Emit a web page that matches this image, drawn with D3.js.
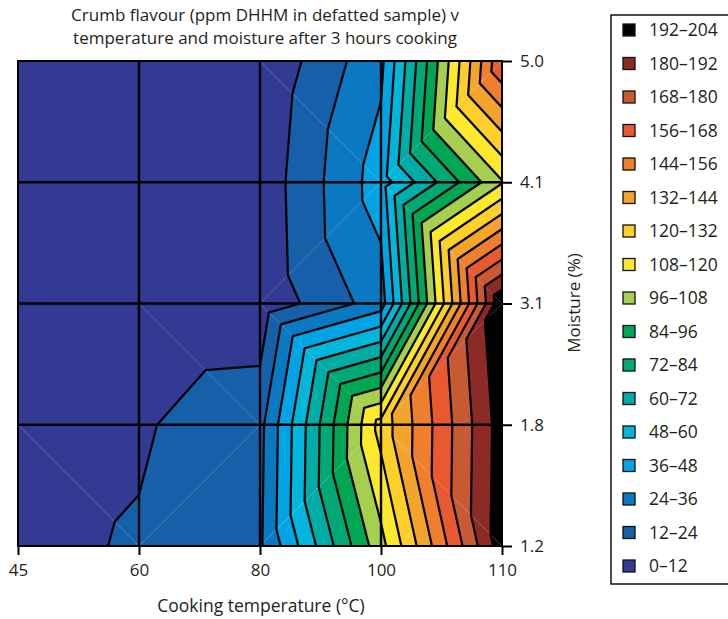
<!DOCTYPE html>
<html>
<head>
<meta charset="utf-8">
<script src="https://cdn.jsdelivr.net/npm/d3@7"></script>
<style>
  html, body { margin: 0; padding: 0; background: #fff; }
  svg { display: block; }
  text { font-family: "Open Sans", "Noto Sans", sans-serif; fill: #231f20; }
</style>
</head>
<body>
<svg id="chart" width="728" height="619"></svg>
<script>
// Grid of cooking conditions
const temperatures = ["45", "60", "80", "100", "110"];
const moistures = ["1.2", "1.8", "3.1", "4.1", "5.0"];

// ppm DHHM measured at each temperature (45, 60, 80, 100, 110 °C), one array per moisture level
const dhhmMoist1_2 = [8.8, 13.1, 22.0, 104.0, 199.0];
const dhhmMoist1_8 = [7.6, 10.5, 20.5, 125.0, 198.0];
const dhhmMoist3_1 = [4.0, 1.6, 3.0, 30.0, 203.0];
const dhhmMoist4_1 = [3.0, 2.0, 4.0, 42.0, 107.0];
const dhhmMoist5_0 = [2.0, 1.0, 1.0, 33.0, 167.0];

// Diagonal that splits each grid cell into two triangles, left to right,
// "\\" = top-left to bottom-right, "/" = bottom-left to top-right
const cellSplit1_2 = ["\\", "/", "/", "\\"];
const cellSplit1_8 = ["\\", "\\", "\\", "/"];
const cellSplit3_1 = ["\\", "\\", "/", "\\"];
const cellSplit4_1 = ["\\", "\\", "\\", "/"];

// Contour bands
const bandEdges = [0, 12, 24, 36, 48, 60, 72, 84, 96, 108, 120, 132, 144, 156, 168, 180, 192, 204];
const bandLabels = ["0–12", "12–24", "24–36", "36–48", "48–60", "60–72", "72–84", "84–96",
  "96–108", "108–120", "120–132", "132–144", "144–156", "156–168", "168–180", "180–192", "192–204"];
const bandColors = ["#333a93", "#1560a9", "#0a79c2", "#00a4e4", "#00b6db", "#00aca6", "#00a875",
  "#00a651", "#a6ce4f", "#fde92b", "#fccf2a", "#f3a52b", "#f07f2d", "#e8592f", "#c75a32", "#8c2a25", "#000000"];

const titleLines = ["Crumb flavour (ppm DHHM in defatted sample) v",
  "temperature and moisture after 3 hours cooking"];
const xTitle = "Cooking temperature (°C)";
const yTitle = "Moisture (%)";

const rows = [dhhmMoist1_2, dhhmMoist1_8, dhhmMoist3_1, dhhmMoist4_1, dhhmMoist5_0];
const splits = [cellSplit1_2, cellSplit1_8, cellSplit3_1, cellSplit4_1];

const svg = d3.select("#chart");
const plot = { left: 18, right: 502, top: 61, bottom: 546 };

const x = d3.scalePoint().domain(temperatures).range([plot.left, plot.right]);
const y = d3.scalePoint().domain(moistures).range([plot.bottom, plot.top]);
const bandColor = d3.scaleOrdinal().domain(bandLabels).range(bandColors);
const bandOf = v => bandLabels[Math.min(bandLabels.length - 1, Math.max(0, d3.bisectRight(bandEdges, v) - 1))];

function node(i, j) {
  return { x: x(temperatures[i]), y: y(moistures[j]), v: rows[j][i] };
}

// Build triangles; cells lying wholly inside one band are kept as single quads
const triangles = [];
const flatCells = [];
for (let j = 0; j < moistures.length - 1; j++) {
  for (let i = 0; i < temperatures.length - 1; i++) {
    const BL = node(i, j), BR = node(i + 1, j), TL = node(i, j + 1), TR = node(i + 1, j + 1);
    if (splits[j][i] === "\\") {
      triangles.push([TL, TR, BR], [TL, BL, BR]);
    } else {
      triangles.push([TL, TR, BL], [BL, BR, TR]);
    }
    const bands = new Set([BL, BR, TL, TR].map(p => bandOf(p.v)));
    if (bands.size === 1) flatCells.push({ band: bandOf(BL.v), poly: [TL, TR, BR, BL], tris: triangles.length - 2 });
  }
}

// Clip a polygon to the half-space where f(v) >= 0, values interpolated linearly
function clip(poly, f) {
  const out = [];
  for (let k = 0; k < poly.length; k++) {
    const a = poly[k], b = poly[(k + 1) % poly.length];
    const da = f(a.v), db = f(b.v);
    if (da >= 0) out.push(a);
    if ((da >= 0) !== (db >= 0)) {
      const t = da / (da - db);
      out.push({ x: a.x + t * (b.x - a.x), y: a.y + t * (b.y - a.y), v: a.v + t * (b.v - a.v) });
    }
  }
  return out;
}

const skip = new Set();
flatCells.forEach(c => { skip.add(c.tris); skip.add(c.tris + 1); });

const fills = flatCells.map(c => ({ band: c.band, poly: c.poly }));
triangles.forEach((tri, t) => {
  if (skip.has(t)) return;
  for (let b = 0; b < bandLabels.length; b++) {
    const lo = bandEdges[b], hi = bandEdges[b + 1];
    const poly = clip(clip(tri, v => v - lo), v => hi - v);
    if (poly.length >= 3) fills.push({ band: bandLabels[b], poly });
  }
});

const gFill = svg.append("g");
gFill.selectAll("path").data(fills).join("path")
  .attr("d", d => {
    const p = d3.path();
    d.poly.forEach((pt, k) => k ? p.lineTo(pt.x, pt.y) : p.moveTo(pt.x, pt.y));
    p.closePath();
    return p.toString();
  })
  .attr("fill", d => bandColor(d.band));

// Contour lines at every band boundary
const levels = bandEdges.slice(1, -1);
const contourPath = d3.path();
triangles.forEach(tri => {
  levels.forEach(L => {
    const pts = [];
    for (let k = 0; k < 3; k++) {
      const a = tri[k], b = tri[(k + 1) % 3];
      if ((a.v - L) * (b.v - L) < 0) {
        const t = (L - a.v) / (b.v - a.v);
        pts.push([a.x + t * (b.x - a.x), a.y + t * (b.y - a.y)]);
      }
    }
    if (pts.length === 2) {
      contourPath.moveTo(pts[0][0], pts[0][1]);
      contourPath.lineTo(pts[1][0], pts[1][1]);
    }
  });
});
svg.append("path")
  .attr("d", contourPath.toString())
  .attr("fill", "none")
  .attr("stroke", "#000")
  .attr("stroke-width", 2.2)
  .attr("stroke-linecap", "round");

// Grid lines
const gGrid = svg.append("g").attr("stroke", "#000").attr("stroke-width", 2.4);
gGrid.selectAll("line.v").data(temperatures.slice(1, -1)).join("line")
  .attr("class", "v")
  .attr("x1", d => x(d)).attr("x2", d => x(d))
  .attr("y1", plot.top).attr("y2", plot.bottom);
gGrid.selectAll("line.h").data(moistures.slice(1, -1)).join("line")
  .attr("class", "h")
  .attr("y1", d => y(d)).attr("y2", d => y(d))
  .attr("x1", plot.left).attr("x2", plot.right);
svg.append("rect")
  .attr("x", plot.left).attr("y", plot.top)
  .attr("width", plot.right - plot.left).attr("height", plot.bottom - plot.top)
  .attr("fill", "none").attr("stroke", "#000").attr("stroke-width", 2);

// Axes
const xAxis = svg.append("g")
  .attr("transform", `translate(0,${plot.bottom})`)
  .call(d3.axisBottom(x).tickSize(9).tickSizeOuter(0).tickPadding(9));
const yAxis = svg.append("g")
  .attr("transform", `translate(${plot.right},0)`)
  .call(d3.axisRight(y).tickSize(10).tickSizeOuter(0).tickPadding(8));
[xAxis, yAxis].forEach(g => {
  g.select(".domain").remove();
  g.selectAll(".tick line").attr("stroke", "#000").attr("stroke-width", 2);
  g.selectAll(".tick text").attr("font-size", 17).attr("fill", "#231f20")
    .attr("font-family", "'Open Sans', 'Noto Sans', sans-serif");
});

// Titles
svg.append("g").selectAll("text").data(titleLines).join("text")
  .attr("x", 265).attr("y", (d, k) => 21 + k * 23)
  .attr("text-anchor", "middle").attr("font-size", 17)
  .text(d => d);
svg.append("text")
  .attr("x", 261).attr("y", 612)
  .attr("text-anchor", "middle").attr("font-size", 17.5)
  .text(xTitle);
svg.append("text")
  .attr("transform", "translate(580,303) rotate(-90)")
  .attr("text-anchor", "middle").attr("font-size", 17)
  .text(yTitle);

// Legend
const legendY = d3.scalePoint().domain(bandLabels.slice().reverse()).range([30, 566]);
const legend = svg.append("g");
legend.append("rect")
  .attr("x", 611).attr("y", 15).attr("width", 140).attr("height", 569)
  .attr("fill", "none").attr("stroke", "#000").attr("stroke-width", 1.4);
const items = legend.selectAll("g.item").data(bandLabels).join("g")
  .attr("class", "item")
  .attr("transform", d => `translate(0,${legendY(d)})`);
items.append("rect")
  .attr("x", 623).attr("y", -6).attr("width", 12).attr("height", 12)
  .attr("fill", d => bandColor(d)).attr("stroke", "#111").attr("stroke-width", 1.3);
items.append("text")
  .attr("x", 649).attr("y", 0).attr("dy", "0.35em")
  .attr("font-size", 17.5)
  .text(d => d);
</script>
</body>
</html>
